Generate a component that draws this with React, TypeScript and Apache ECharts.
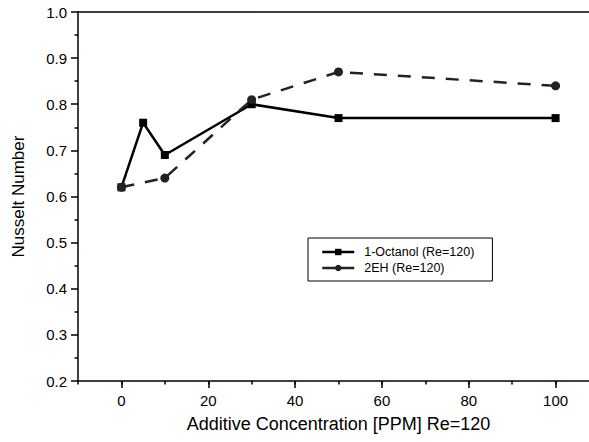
import React, { useEffect, useRef } from "react";
import * as echarts from "echarts";

const xOctanol = [0, 5, 10, 30, 50, 100];
const octanol = [0.62, 0.76, 0.69, 0.8, 0.77, 0.77];
const x2EH = [0, 10, 30, 50, 100];
const eh2 = [0.62, 0.64, 0.81, 0.87, 0.84];
const xMajorTicks = [0, 20, 40, 60, 80, 100];
const seriesNames = ["1-Octanol (Re=120)", "2EH (Re=120)"];

const FONT = "Liberation Sans, Arial, Helvetica, sans-serif";

export default function App() {
  const ref = useRef<HTMLDivElement>(null);
  useEffect(() => {
    if (!ref.current) return;
    const chart = echarts.init(ref.current, null, { renderer: "svg" });
    chart.setOption({
      animation: false,
      backgroundColor: "#fff",
      textStyle: { fontFamily: FONT },
      grid: { left: 78, top: 12, bottom: 61, right: 41 },
      legend: {
        left: 308,
        top: 238,
        orient: "vertical",
        itemWidth: 32,
        itemHeight: 8,
        itemGap: 2,
        padding: [7, 18, 6, 13],
        borderColor: "#000",
        borderWidth: 1,
        borderRadius: 0,
        lineStyle: { width: 2.5 },
        textStyle: { fontSize: 12.5, color: "#000", lineHeight: 14, padding: [0, 0, 0, 5] },
        data: [
          { name: seriesNames[0] },
          { name: seriesNames[1], lineStyle: { type: "solid", width: 2.5 } },
        ],
      },
      xAxis: [
        {
          type: "value",
          min: -10,
          max: 110,
          interval: 10,
          position: "bottom",
          name: "Additive Concentration [PPM] Re=120",
          nameLocation: "middle",
          nameGap: 34,
          nameTextStyle: { fontSize: 18, color: "#000", fontFamily: FONT },
          axisLine: { show: true, onZero: false, lineStyle: { color: "#000", width: 1.5 } },
          axisTick: { show: true, length: 7, customValues: xMajorTicks, lineStyle: { color: "#000", width: 1.5 } },
          axisLabel: { customValues: xMajorTicks, fontSize: 15, color: "#000", margin: 12, fontFamily: FONT },
          splitLine: { show: false },
        },
        {
          type: "value",
          min: -10,
          max: 110,
          interval: 10,
          position: "bottom",
          axisLine: { show: false, onZero: false },
          axisTick: { show: true, length: 3.5, lineStyle: { color: "#000", width: 1.5 } },
          axisLabel: { show: false },
          splitLine: { show: false },
        },
        {
          type: "value",
          min: -10,
          max: 110,
          position: "top",
          axisLine: { show: true, onZero: false, lineStyle: { color: "#000", width: 1.5 } },
          axisTick: { show: false },
          axisLabel: { show: false },
          splitLine: { show: false },
        },
      ],
      yAxis: {
        type: "value",
        min: 0.2,
        max: 1.0,
        interval: 0.1,
        position: "left",
        name: "Nusselt Number",
        nameLocation: "middle",
        nameGap: 51,
        nameTextStyle: { fontSize: 17, color: "#000", fontFamily: FONT },
        axisLine: { show: true, onZero: false, lineStyle: { color: "#000", width: 1.5 } },
        axisTick: { show: true, length: 7, lineStyle: { color: "#000", width: 1.5 } },
        minorTick: { show: true, splitNumber: 2, length: 3.5, lineStyle: { color: "#000", width: 1.5 } },
        axisLabel: {
          fontSize: 15,
          color: "#000",
          margin: 11,
          fontFamily: FONT,
          formatter: (v: number) => v.toFixed(1),
        },
        splitLine: { show: false },
      },
      series: [
        {
          name: seriesNames[0],
          type: "line",
          xAxisIndex: 0,
          data: xOctanol.map((x, i) => [x, octanol[i]]),
          symbol: "rect",
          symbolSize: 8,
          showAllSymbol: true,
          lineStyle: { color: "#000", width: 2.5, type: "solid" },
          itemStyle: { color: "#000" },
          emphasis: { disabled: true },
        },
        {
          name: seriesNames[1],
          type: "line",
          xAxisIndex: 0,
          data: x2EH.map((x, i) => [x, eh2[i]]),
          symbol: "circle",
          symbolSize: 9,
          showAllSymbol: true,
          lineStyle: { color: "#222", width: 2.5, type: [13, 11] },
          itemStyle: { color: "#222" },
          emphasis: { disabled: true },
        },
      ],
    });
    return () => chart.dispose();
  }, []);
  return (
    <div style={{ position: "fixed", left: 0, top: 0, width: 589, height: 442, overflow: "hidden", background: "#fff" }}>
      <div ref={ref} style={{ width: 640, height: 442 }} />
    </div>
  );
}
